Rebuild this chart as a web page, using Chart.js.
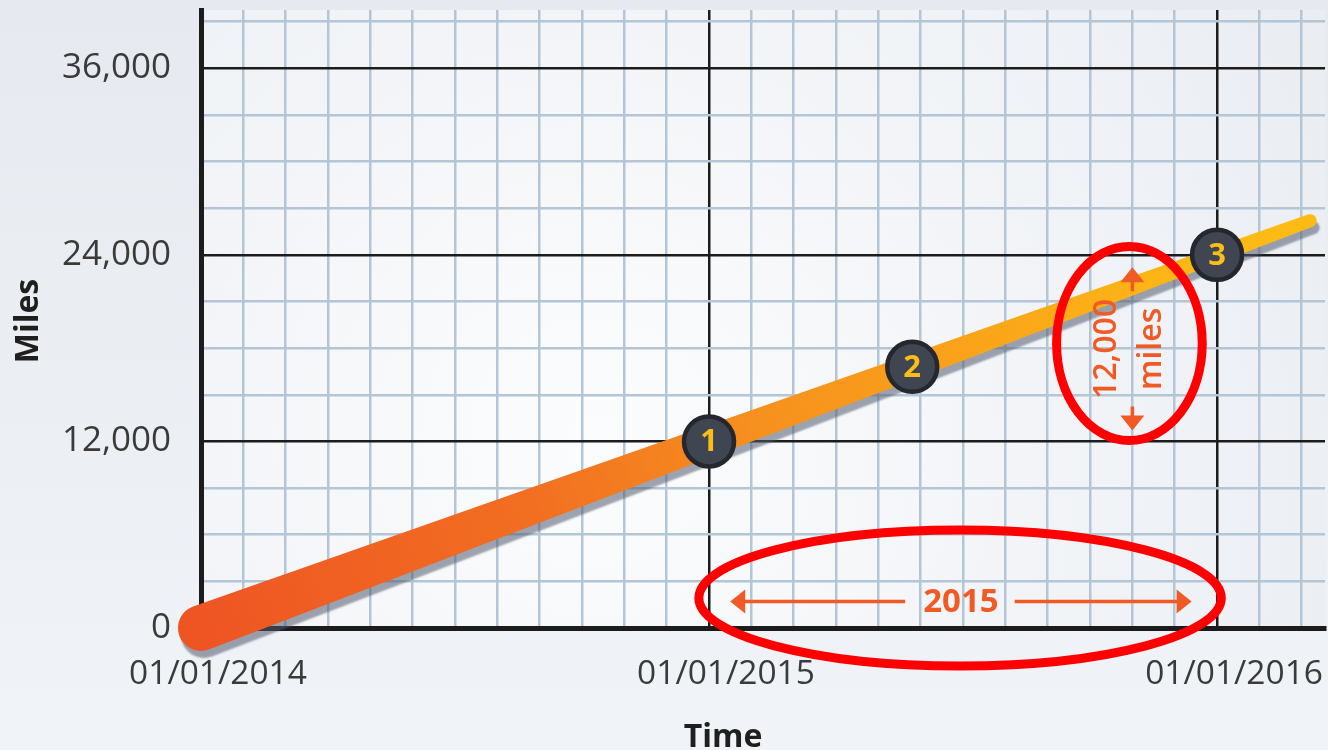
<!DOCTYPE html>
<html>
<head>
<meta charset="utf-8">
<title>Miles over time</title>
<script src="https://cdn.jsdelivr.net/npm/chart.js@4.4.1/dist/chart.umd.min.js"></script>
<style>
  html, body { margin: 0; padding: 0; background: #eceff4; }
  #wrap { width: 1328px; height: 750px; }
</style>
</head>
<body>
<div id="wrap"><canvas id="milesChart" width="1328" height="750"></canvas></div>
<script>
// ---- data ----
const months = [0, 12, 16.8, 24, 26.2];          // months since 01/01/2014
const miles = [0, 12000, 16800, 24000, 26200];
const markerLabels = ["", "1", "2", "3", ""];
const yearLabels = ["01/01/2014", "01/01/2015", "01/01/2016"];
const xTickMonths = [0, 1, 2, 3, 4, 5, 6, 7, 8, 9, 10, 11, 12, 13, 14, 15, 16, 17, 18, 19, 20, 21, 22, 23, 24, 25, 26];
const yTickMiles = [0, 3000, 6000, 9000, 12000, 15000, 18000, 21000, 24000, 27000, 30000, 33000, 36000, 39000];

// annotation callouts (data units)
const yearSpan = { from: 12.5, to: 23.4, at: 1700, text: "2015" };
const milesSpan = { at: 22, from: 12700, to: 23200, text: ["12,000", "miles"] };
const rings = [
  { x: 17.93, y: 1930, rx: 6.17, ry: 4370 },
  { x: 21.93, y: 18300, rx: 1.72, ry: 6240 }
];

const INK = "#3a3a3a";
const ORANGE = "#f15a24";
const FONT = "'Open Sans', 'DejaVu Sans', sans-serif";

// page + plot background
const bgPlugin = {
  id: "bg",
  beforeDraw(chart) {
    const { ctx, chartArea: a, width, height } = chart;
    ctx.save();
    const g = ctx.createLinearGradient(0, 0, 0, height);
    g.addColorStop(0, "#e6eaf0");
    g.addColorStop(1, "#f0f3f7");
    ctx.fillStyle = g;
    ctx.fillRect(0, 0, width, height);
    const cx = a.left + a.width * 0.35, cy = a.bottom - a.height * 0.3;
    const r = ctx.createRadialGradient(cx, cy, 20, cx, cy, a.width * 0.85);
    r.addColorStop(0, "#fbfcfd");
    r.addColorStop(1, "#e7ebf1");
    ctx.fillStyle = r;
    ctx.fillRect(a.left, a.top, a.width, a.height);
    ctx.restore();
  }
};

// thick tapered line with shadow, built from the dataset points
const taperPlugin = {
  id: "taper",
  beforeDatasetsDraw(chart) {
    const ctx = chart.ctx;
    const pts = chart.getDatasetMeta(0).data;
    const p0 = pts[0], p1 = pts[pts.length - 1];
    const t = Math.atan2(p1.y - p0.y, p1.x - p0.x);
    const w0 = 23, w1 = 6.5;
    const up = t + Math.PI / 2, dn = t - Math.PI / 2;

    ctx.save();
    ctx.beginPath();
    ctx.moveTo(p0.x + Math.cos(up) * w0, p0.y + Math.sin(up) * w0);
    ctx.lineTo(p1.x + Math.cos(up) * w1, p1.y + Math.sin(up) * w1);
    ctx.arc(p1.x, p1.y, w1, up, dn, true);
    ctx.lineTo(p0.x + Math.cos(dn) * w0, p0.y + Math.sin(dn) * w0);
    ctx.arc(p0.x, p0.y, w0, dn, up, true);
    ctx.closePath();

    const g = ctx.createLinearGradient(p0.x, p0.y, p1.x, p1.y);
    g.addColorStop(0, "#ee5523");
    g.addColorStop(0.3, "#f26f21");
    g.addColorStop(0.5, "#f6901e");
    g.addColorStop(0.7, "#faa41a");
    g.addColorStop(0.88, "#fdb715");
    g.addColorStop(1, "#fdbb13");
    ctx.fillStyle = g;
    ctx.shadowColor = "rgba(80, 90, 110, 0.55)";
    ctx.shadowOffsetX = 3;
    ctx.shadowOffsetY = 7;
    ctx.shadowBlur = 2;
    ctx.fill();
    ctx.restore();
  }
};

// numbers inside the markers
const markerTextPlugin = {
  id: "markerText",
  afterDatasetsDraw(chart) {
    const ctx = chart.ctx;
    const pts = chart.getDatasetMeta(0).data;
    ctx.save();
    ctx.font = "bold 31px " + FONT;
    ctx.fillStyle = "#fbbd18";
    ctx.textAlign = "center";
    ctx.textBaseline = "middle";
    pts.forEach((p, i) => {
      if (markerLabels[i]) ctx.fillText(markerLabels[i], p.x, p.y + 1);
    });
    ctx.restore();
  }
};

function arrowHead(ctx, x, y, dx, dy) {
  const len = 15, half = 12;
  ctx.beginPath();
  ctx.moveTo(x, y);
  ctx.lineTo(x - dx * len - dy * half, y - dy * len + dx * half);
  ctx.lineTo(x - dx * len + dy * half, y - dy * len - dx * half);
  ctx.closePath();
  ctx.fill();
}

// orange callouts and red rings
const annotatePlugin = {
  id: "annotate",
  afterDraw(chart) {
    const { ctx, scales: { x, y } } = chart;
    ctx.save();
    ctx.fillStyle = ORANGE;
    ctx.strokeStyle = ORANGE;
    ctx.lineWidth = 3.5;

    // year span
    const xa = x.getPixelForValue(yearSpan.from);
    const xb = x.getPixelForValue(yearSpan.to);
    const yy = y.getPixelForValue(yearSpan.at);
    ctx.font = "bold 33px " + FONT;
    ctx.textAlign = "center";
    ctx.textBaseline = "middle";
    const mid = (xa + xb) / 2;
    const tw = ctx.measureText(yearSpan.text).width;
    ctx.beginPath();
    ctx.moveTo(xa + 10, yy); ctx.lineTo(mid - tw / 2 - 18, yy);
    ctx.moveTo(mid + tw / 2 + 16, yy); ctx.lineTo(xb - 10, yy);
    ctx.stroke();
    arrowHead(ctx, xa, yy, -1, 0);
    arrowHead(ctx, xb, yy, 1, 0);
    ctx.fillText(yearSpan.text, mid, yy + 1);

    // miles span
    const mx = x.getPixelForValue(milesSpan.at);
    const ya = y.getPixelForValue(milesSpan.to);
    const yb = y.getPixelForValue(milesSpan.from);
    ctx.beginPath();
    ctx.moveTo(mx, ya + 10); ctx.lineTo(mx, ya + 24);
    ctx.moveTo(mx, yb - 24); ctx.lineTo(mx, yb - 10);
    ctx.stroke();
    arrowHead(ctx, mx, ya, 0, -1);
    arrowHead(ctx, mx, yb, 0, 1);
    ctx.save();
    ctx.translate(mx, (ya + yb) / 2);
    ctx.rotate(-Math.PI / 2);
    ctx.font = "600 32px " + FONT;
    ctx.fillText(milesSpan.text[0], 0, -25);
    ctx.fillText(milesSpan.text[1], 0, 20);
    ctx.restore();

    // red rings
    ctx.strokeStyle = "#ff0000";
    ctx.lineWidth = 9;
    rings.forEach(r => {
      const cx = x.getPixelForValue(r.x), cy = y.getPixelForValue(r.y);
      const rx = Math.abs(x.getPixelForValue(r.x + r.rx) - cx);
      const ry = Math.abs(y.getPixelForValue(r.y + r.ry) - cy);
      ctx.beginPath();
      ctx.ellipse(cx, cy, rx, ry, 0, 0, Math.PI * 2);
      ctx.stroke();
    });

    // axis titles
    ctx.fillStyle = "#1f1f1f";
    ctx.font = "bold 32px " + FONT;
    ctx.textAlign = "center";
    ctx.textBaseline = "alphabetic";
    ctx.fillText("Time", 723, 747);
    ctx.save();
    ctx.translate(38, 321);
    ctx.rotate(-Math.PI / 2);
    ctx.fillText("Miles", 0, 0);
    ctx.restore();

    ctx.restore();
  }
};

const minorColor = "#b4c5d5";
const majorColor = "#1c1c1c";

new Chart(document.getElementById("milesChart"), {
  type: "line",
  data: {
    datasets: [{
      data: months.map((m, i) => ({ x: m, y: miles[i] })),
      showLine: false,
      pointRadius: markerLabels.map(l => (l ? 25 : 0)),
      pointBackgroundColor: "#404552",
      pointBorderColor: "#24272d",
      pointBorderWidth: 4.5
    }]
  },
  options: {
    responsive: false,
    animation: false,
    events: [],
    layout: { padding: { top: 10, right: 3, left: 0, bottom: 0 } },
    plugins: {
      legend: { display: false },
      tooltip: { enabled: false }
    },
    scales: {
      x: {
        type: "linear",
        min: 0,
        max: 26.55,
        afterBuildTicks(s) { s.ticks = xTickMonths.map(v => ({ value: v })); },
        afterFit(s) { s.height = 122; s.paddingLeft = 0; s.paddingRight = 0; },
        ticks: {
          autoSkip: false,
          maxRotation: 0,
          padding: 26,
          labelOffset: 17,
          color: INK,
          font: { family: FONT, size: 33.5 },
          callback: v => (v % 12 === 0 ? yearLabels[v / 12] : "")
        },
        grid: {
          drawTicks: false,
          color: c => (c.tick && c.tick.value % 12 === 0 ? majorColor : minorColor),
          lineWidth: 2.5
        },
        border: { color: majorColor, width: 5 }
      },
      y: {
        min: 0,
        max: 39750,
        afterBuildTicks(s) { s.ticks = yTickMiles.map(v => ({ value: v })); },
        afterFit(s) { s.width = 201; s.paddingTop = 0; s.paddingBottom = 0; },
        ticks: {
          autoSkip: false,
          padding: 30,
          color: INK,
          font: { family: FONT, size: 35 },
          callback: v => (v % 12000 === 0 ? v.toLocaleString("en-US") : "")
        },
        grid: {
          drawTicks: false,
          color: c => (c.tick && c.tick.value % 12000 === 0 ? majorColor : minorColor),
          lineWidth: 2.5
        },
        border: { color: majorColor, width: 5 }
      }
    }
  },
  plugins: [bgPlugin, taperPlugin, markerTextPlugin, annotatePlugin]
});
</script>
</body>
</html>
